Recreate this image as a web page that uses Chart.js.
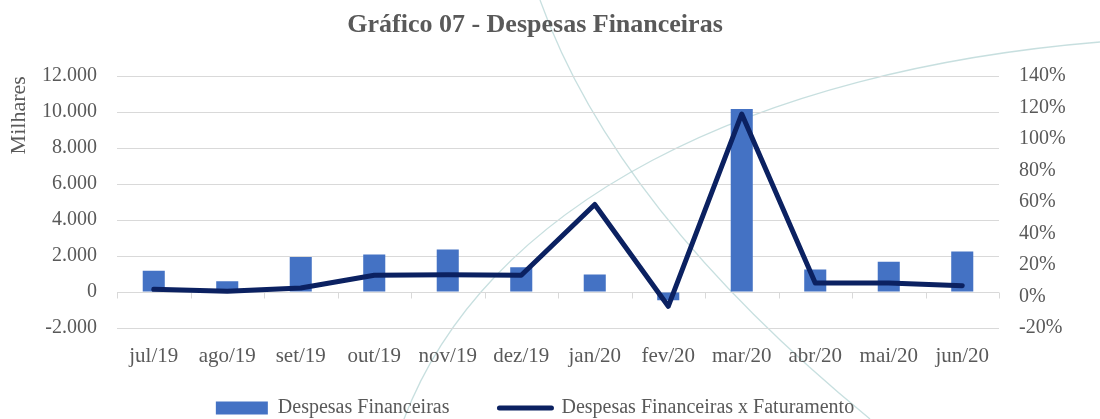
<!DOCTYPE html>
<html>
<head>
<meta charset="utf-8">
<script src="https://cdn.jsdelivr.net/npm/chart.js@4.4.1/dist/chart.umd.min.js"></script>
<style>
html,body{margin:0;padding:0;background:#ffffff;}
#wrap{width:1100px;height:419px;position:relative;}
</style>
</head>
<body>
<div id="wrap"><canvas id="c" width="1100" height="419"></canvas></div>
<script>
const categories = ['jul/19','ago/19','set/19','out/19','nov/19','dez/19','jan/20','fev/20','mar/20','abr/20','mai/20','jun/20'];
const despesas = [1190, 600, 1950, 2080, 2360, 1380, 970, -460, 10170, 1250, 1690, 2260];
const despesasPct = [4.6, 3.3, 5.4, 13.5, 13.9, 13.5, 58.5, -6.2, 116, 8.6, 8.6, 6.9];
const leftTicks = [-2000, 0, 2000, 4000, 6000, 8000, 10000, 12000];
const rightTicks = [-20, 0, 20, 40, 60, 80, 100, 120, 140];
const seriesNames = ['Despesas Financeiras', 'Despesas Financeiras x Faturamento'];
const titleText = 'Gráfico 07 - Despesas Financeiras';
const yTitle = 'Milhares';

const FONT = "'Liberation Serif', 'Times New Roman', serif";
const TXT = '#595959';
const BAR = '#4472C4';
const LINE = '#0B2161';
const GRID = '#D9D9D9';

function fmtThousands(v){
  const s = Math.abs(v).toString().replace(/\B(?=(\d{3})+(?!\d))/g, '.');
  return (v < 0 ? '-' : '') + s;
}

const zeroAxisPlugin = {
  id: 'zeroAxis',
  afterLayout(chart){
    // let the category labels draw below the (compact) x-axis box without clipping
    const xs = chart.scales.x;
    xs.bottom = xs.top + 50;
    xs.height = 50;
  },
  beforeDatasetsDraw(chart){
    const {ctx, chartArea, scales} = chart;
    const y0 = Math.round(scales.y.getPixelForValue(0)) + 0.5;
    ctx.save();
    ctx.strokeStyle = GRID;
    ctx.lineWidth = 1;
    ctx.beginPath();
    ctx.moveTo(chartArea.left, y0);
    ctx.lineTo(chartArea.right, y0);
    const n = categories.length;
    for (let i = 0; i <= n; i++) {
      const x = Math.round(scales.x.getPixelForValue(i - 0.5)) + 0.5;
      ctx.moveTo(x, y0);
      ctx.lineTo(x, y0 + 6);
    }
    ctx.stroke();
    ctx.restore();
  }
};

// faint decorative watermark curves in the page background
const decoPlugin = {
  id: 'deco',
  beforeDraw(chart){
    const ctx = chart.ctx;
    ctx.save();
    ctx.fillStyle = '#ffffff';
    ctx.fillRect(0, 0, chart.width, chart.height);
    ctx.strokeStyle = 'rgba(175,210,210,0.7)';
    ctx.lineWidth = 1.3;
    ctx.beginPath();
    ctx.moveTo(540, 0);
    ctx.quadraticCurveTo(615, 210, 870, 419);
    ctx.stroke();
    ctx.beginPath();
    ctx.moveTo(400, 430);
    ctx.bezierCurveTo(480, 200, 760, 70, 1100, 42);
    ctx.stroke();
    ctx.restore();
  }
};

new Chart(document.getElementById('c'), {
  data: {
    labels: categories,
    datasets: [
      {
        type: 'line',
        label: seriesNames[1],
        data: despesasPct,
        yAxisID: 'y1',
        borderColor: LINE,
        backgroundColor: LINE,
        borderWidth: 5,
        pointRadius: 0,
        pointHoverRadius: 0,
        tension: 0,
        borderJoinStyle: 'round',
        borderCapStyle: 'round',
        order: 1
      },
      {
        type: 'bar',
        label: seriesNames[0],
        data: despesas,
        yAxisID: 'y',
        backgroundColor: BAR,
        borderWidth: 0,
        barPercentage: 0.3,
        categoryPercentage: 1,
        order: 2
      }
    ]
  },
  options: {
    responsive: false,
    animation: false,
    devicePixelRatio: 1,
    layout: { padding: { left: 0, right: 30, top: 0, bottom: -9 } },
    plugins: {
      title: {
        display: true,
        text: titleText,
        color: TXT,
        font: { family: FONT, size: 26, weight: 'bold' },
        padding: { top: 10, bottom: 35 }
      },
      legend: {
        display: true,
        position: 'bottom',
        labels: {
          color: TXT,
          font: { family: FONT, size: 20 },
          usePointStyle: true,
          pointStyleWidth: 52,
          boxHeight: 13,
          padding: 50,
          generateLabels(chart){
            return [
              { text: seriesNames[0], fillStyle: BAR, strokeStyle: BAR, lineWidth: 0, pointStyle: 'rect', datasetIndex: 1, fontColor: TXT },
              { text: seriesNames[1], fillStyle: LINE, strokeStyle: LINE, lineWidth: 5, lineCap: 'round', pointStyle: 'line', datasetIndex: 0, fontColor: TXT }
            ];
          }
        }
      },
      tooltip: { enabled: false }
    },
    scales: {
      x: {
        type: 'category',
        offset: true,
        grid: { display: false, drawTicks: false },
        border: { display: false },
        ticks: { color: TXT, font: { family: FONT, size: 21 }, padding: 16, maxRotation: 0, autoSkip: false },
        afterFit(scale){ scale.height = 20; }
      },
      y: {
        position: 'left',
        min: -2000,
        max: 12000,
        afterBuildTicks(scale){ scale.ticks = leftTicks.map(v => ({ value: v })); },
        grid: { color: GRID, drawTicks: false, lineWidth: 1 },
        border: { display: false },
        ticks: { color: TXT, font: { family: FONT, size: 20 }, padding: 20, callback: v => fmtThousands(v) },
        title: { display: true, text: yTitle, color: TXT, font: { family: FONT, size: 22 }, align: 'end', padding: { top: 6, bottom: 0 } },
        afterFit(scale){ scale.width = 117; }
      },
      y1: {
        position: 'right',
        min: -20,
        max: 140,
        afterBuildTicks(scale){ scale.ticks = rightTicks.map(v => ({ value: v })); },
        grid: { display: false, drawTicks: false },
        border: { display: false },
        ticks: { color: TXT, font: { family: FONT, size: 20 }, padding: 20, callback: v => v + '%' },
        afterFit(scale){ scale.width = 71; }
      }
    }
  },
  plugins: [decoPlugin, zeroAxisPlugin]
});
</script>
</body>
</html>
